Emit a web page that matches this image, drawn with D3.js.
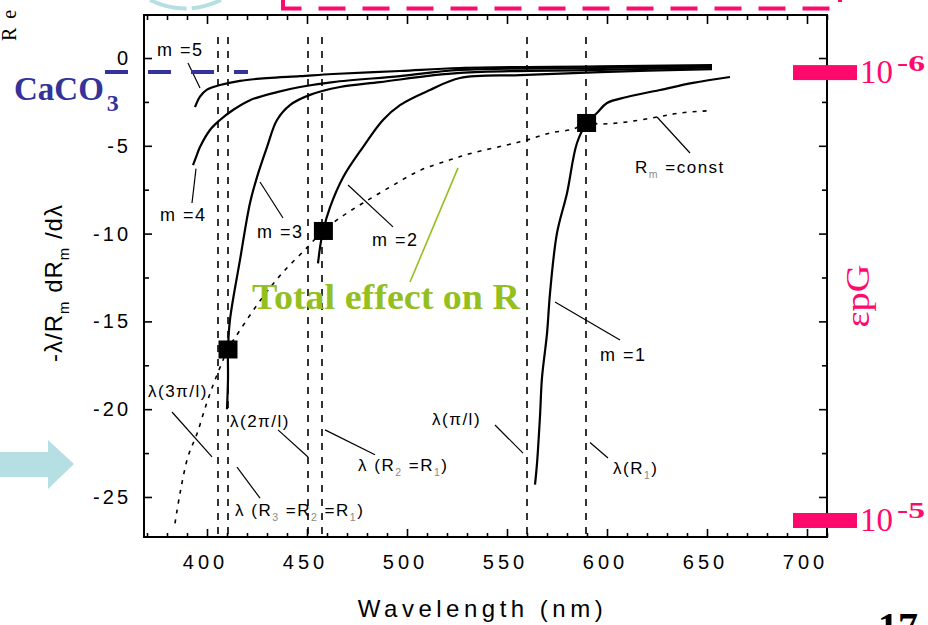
<!DOCTYPE html>
<html><head><meta charset="utf-8">
<script src="https://cdn.jsdelivr.net/npm/d3@7"></script>
<style>body{margin:0;background:#fff;}svg{display:block}</style>
</head><body>
<svg id="c" width="928" height="625"></svg>
<script>
// ---------------- data ----------------
const wavelengthTicks = [400, 450, 500, 550, 600, 650, 700];
const valueTicks = [0, -5, -10, -15, -20, -25];

const curveM1 = [[564,-24.3],[565,-23.1],[566.5,-20.4],[567.5,-18.2],[570,-15.7],[571.5,-13.4],[575,-9.97],[580,-7.7],[585,-4.84],[590,-3.7],[595,-3.13],[600,-2.56],[610,-2.22],[626.5,-1.82],[643,-1.42],[661.5,-1.08]];
const curveM2 = [[455.5,-11.7],[456.5,-10.8],[458,-9.85],[461.5,-8.5],[468,-6.8],[478,-5.07],[488,-3.53],[496.5,-2.68],[511.5,-1.82],[526.5,-1.14],[556.5,-0.97],[596.5,-0.8],[652.5,-0.63]];
const curveM3 = [[410,-20.0],[410.5,-18.3],[410.5,-16.6],[411.5,-14.9],[416.5,-11.5],[421.5,-8.26],[425,-6.78],[430,-5.07],[435,-3.53],[441.5,-2.68],[451.5,-2.1],[466.5,-1.65],[486.5,-1.37],[526.5,-0.85],[596.5,-0.68],[652.5,-0.54]];
const curveM4 = [[393,-6.1],[395,-5.5],[396.5,-5.07],[401.5,-4.1],[406.5,-3.53],[413,-2.96],[421.5,-2.4],[435,-1.94],[446.5,-1.65],[463,-1.37],[496.5,-1.03],[526.5,-0.68],[596.5,-0.57],[652.5,-0.46]];
const curveM5 = [[394,-2.8],[396.5,-2.2],[400,-1.8],[406.5,-1.54],[416.5,-1.3],[430,-1.14],[446.5,-1.03],[463,-0.91],[496.5,-0.74],[526.5,-0.57],[596.5,-0.48],[652.5,-0.4]];
const curveRconst = [[384,-26.5],[386.5,-24.8],[390.5,-22.7],[395,-21.4],[400,-19.6],[405,-18.05],[410.5,-16.6],[416.5,-15.5],[428,-13.6],[438,-12.2],[450,-10.8],[458,-9.85],[466.5,-9.1],[478,-8.26],[491.5,-7.35],[506.5,-6.4],[521.5,-5.8],[533,-5.4],[550,-4.95],[560,-4.67],[571.5,-4.27],[583,-4.05],[590,-3.7],[596.5,-3.76],[610,-3.64],[625,-3.36],[636.5,-3.13],[651.5,-3.0]];
const squarePoints = [[410.5,-16.6],[458.2,-9.85],[589.8,-3.7]];
const resonanceLines = [405.5, 410.5, 450.5, 457.5, 560, 589.5];

const labelTexts = ["m =5","m =4","m =3","m =2","m =1","R_m =const","λ(3π/l)","λ(2π/l)","λ (R_2 =R_1)","λ (R_3 =R_2 =R_1)","λ(π/l)","λ(R_1)"];
const labelAnchors = [[375,0.11],[376.5,-9.28],[425,-10.25],[482.5,-10.7],[596.5,-17.25],[614,-6.55],[370.5,-19.3],[411.5,-21.0],[475.5,-23.5],[414,-26.1],[512.5,-20.9],[603,-23.7]];
const labelSizes = [18,18,18,18,18,17,17,17,17,17,17,17];
const pointerLines = [
  [[390.5,-0.28],[396.5,-1.71]],
  [[392.5,-8.26],[394.5,-6.3]],
  [[426.5,-7.06],[438,-9.11]],
  [[470.5,-7.23],[493,-9.62]],
  [[574,-13.9],[606.5,-16.06]],
  [[625,-3.36],[641.5,-5.41]],
  [[382.5,-20.16],[402.5,-22.72]],
  [[435.5,-21.18],[450.5,-22.72]],
  [[459,-21.18],[484,-22.6]],
  [[415,-23.3],[426.5,-25.06]],
  [[544,-20.9],[558,-22.5]],
  [[591.5,-21.9],[600.5,-22.78]]
];
const totalEffectText = "Total effect on R";
const totalEffectAnchor = [422.5, -14.3];
const totalEffectPointer = [[501.5,-12.76],[525.5,-6.26]];
const caco3Level = -0.8;
const caco3Span = [349, 420.5];
const epsMarks = [{exp:"-6", v:-0.83}, {exp:"-5", v:-26.34}];

// ---------------- layout ----------------
const svg = d3.select("#c");
const L=144, R=827, T=15, B=537;
const x = d3.scaleLinear().domain([368.5, 710]).range([L, R]);
const y = d3.scaleLinear().domain([2.45, -27.28]).range([T, B]);
const SANS = "'Liberation Sans', Arial, sans-serif";
const SERIF = "'Liberation Serif', 'Times New Roman', serif";
const PINK = "#ff0a6c", BLUE = "#333399", GREEN = "#93c01f", CYAN = "#b5dfe3";

// decorations outside plot
svg.append("path").attr("d","M150,0 Q185,17 221,0").attr("fill","none")
  .attr("stroke",CYAN).attr("stroke-width",4).attr("stroke-dasharray","38,5");
svg.append("path").attr("d","M283,0 V8.5 H840 V0").attr("fill","none")
  .attr("stroke",PINK).attr("stroke-width",4).attr("stroke-dasharray","27,17");
svg.append("text").attr("transform","translate(16,41) rotate(-90)")
  .attr("font-family",SERIF).attr("font-size",20).attr("letter-spacing",9).text("Re");
svg.append("polygon").attr("points","0,452 48,452 48,440 74,464 48,489 48,477 0,477").attr("fill",CYAN);

// clip
svg.append("clipPath").attr("id","clip").append("rect")
  .attr("x",L).attr("y",T).attr("width",R-L).attr("height",B-T);
const plot = svg.append("g").attr("clip-path","url(#clip)");

// vertical dashed resonance lines
plot.selectAll("line.res").data(resonanceLines).join("line")
  .attr("x1",d=>x(d)).attr("x2",d=>x(d)).attr("y1",T+22).attr("y2",B)
  .attr("stroke","#000").attr("stroke-width",1.6).attr("stroke-dasharray","7,7");

const line = d3.line().x(d=>x(d[0])).y(d=>y(d[1])).curve(d3.curveCatmullRom.alpha(0.5));

plot.append("path").datum(curveRconst).attr("d",line).attr("fill","none")
  .attr("stroke","#000").attr("stroke-width",1.6).attr("stroke-dasharray","4,6");

[curveM1, curveM2, curveM3, curveM4, curveM5].forEach(c => {
  plot.append("path").datum(c).attr("d",line).attr("fill","none")
    .attr("stroke","#000").attr("stroke-width",2.2);
});

plot.selectAll("rect.sq").data(squarePoints).join("rect")
  .attr("x",d=>x(d[0])-9.5).attr("y",d=>y(d[1])-9).attr("width",19).attr("height",18).attr("fill","#000");

// pointer lines
svg.selectAll("line.ptr").data(pointerLines).join("line")
  .attr("x1",d=>x(d[0][0])).attr("y1",d=>y(d[0][1])).attr("x2",d=>x(d[1][0])).attr("y2",d=>y(d[1][1]))
  .attr("stroke","#000").attr("stroke-width",1.2);

// rich text helper (underscore = subscript char)
function rich(g, str, size, subColor) {
  const parts = [];
  let buf = "";
  for (let i = 0; i < str.length; i++) {
    if (str[i] === "_") {
      if (buf) { parts.push({t: buf, sub: false}); buf = ""; }
      parts.push({t: str[i+1], sub: true});
      i++;
    } else buf += str[i];
  }
  if (buf) parts.push({t: buf, sub: false});
  let shift = 0;
  parts.forEach(p => {
    const target = p.sub ? size*0.3 : 0;
    const ts = g.append("tspan").text(p.t);
    if (target !== shift) { ts.attr("dy", target - shift); shift = target; }
    if (p.sub) ts.attr("font-size", size*0.62).attr("fill", subColor);
  });
}

labelTexts.forEach((t, i) => {
  const g = svg.append("text").attr("x", x(labelAnchors[i][0])).attr("y", y(labelAnchors[i][1]))
    .attr("font-family", SANS).attr("font-size", labelSizes[i]).attr("letter-spacing", 1.5).attr("fill","#000");
  rich(g, t, labelSizes[i], "#8a8a8a");
});

// green annotation
svg.append("line").attr("x1",x(totalEffectPointer[0][0])).attr("y1",y(totalEffectPointer[0][1]))
  .attr("x2",x(totalEffectPointer[1][0])).attr("y2",y(totalEffectPointer[1][1]))
  .attr("stroke",GREEN).attr("stroke-width",1.6);
svg.append("text").attr("x",x(totalEffectAnchor[0])).attr("y",y(totalEffectAnchor[1]))
  .attr("font-family",SERIF).attr("font-weight","bold").attr("font-size",36)
  .attr("textLength",268).attr("lengthAdjust","spacingAndGlyphs").attr("fill",GREEN).text(totalEffectText);

// axes
const minorX = d3.range(370, 711, 10).filter(v => v % 50 !== 0);
const minorY = d3.range(-2.5, -27.5, -2.5).filter(v => v % 5 !== 0);
function styleAxis(g){ g.select(".domain").remove(); g.selectAll(".tick line").attr("stroke","#000").attr("stroke-width",1.6); }

svg.append("g").attr("transform",`translate(0,${B})`)
  .call(d3.axisBottom(x).tickValues(wavelengthTicks).tickSizeInner(-8).tickSizeOuter(0).tickPadding(18).tickFormat(d3.format("d")))
  .call(styleAxis)
  .call(g=>g.selectAll("text").attr("font-family",SANS).attr("font-size",20).attr("letter-spacing",4).attr("dx",-2).attr("fill","#000"));
svg.append("g").attr("transform",`translate(0,${B})`)
  .call(d3.axisBottom(x).tickValues(minorX).tickSizeInner(-4).tickSizeOuter(0).tickFormat(""))
  .call(styleAxis);
svg.append("g").attr("transform",`translate(0,${T})`)
  .call(d3.axisTop(x).tickValues(wavelengthTicks).tickSizeInner(-9).tickSizeOuter(0).tickFormat(""))
  .call(styleAxis);
svg.append("g").attr("transform",`translate(0,${T})`)
  .call(d3.axisTop(x).tickValues(minorX).tickSizeInner(-5).tickSizeOuter(0).tickFormat(""))
  .call(styleAxis);
svg.append("g").attr("transform",`translate(${L},0)`)
  .call(d3.axisLeft(y).tickValues(valueTicks).tickSizeInner(-8).tickSizeOuter(0).tickPadding(13).tickFormat(d=>String(d)))
  .call(styleAxis)
  .call(g=>g.selectAll("text").attr("font-family",SANS).attr("font-size",20).attr("letter-spacing",3).attr("fill","#000"));
svg.append("g").attr("transform",`translate(${L},0)`)
  .call(d3.axisLeft(y).tickValues(minorY).tickSizeInner(-5).tickSizeOuter(0).tickFormat(""))
  .call(styleAxis);
svg.append("g").attr("transform",`translate(${R},0)`)
  .call(d3.axisRight(y).tickValues(valueTicks).tickSizeInner(-8).tickSizeOuter(0).tickFormat(""))
  .call(styleAxis);
svg.append("g").attr("transform",`translate(${R},0)`)
  .call(d3.axisRight(y).tickValues(minorY).tickSizeInner(-5).tickSizeOuter(0).tickFormat(""))
  .call(styleAxis);

svg.append("rect").attr("x",L).attr("y",T).attr("width",R-L).attr("height",B-T)
  .attr("fill","none").attr("stroke","#000").attr("stroke-width",2);

// axis titles
svg.append("text").attr("x",(L+R)/2-3).attr("y",617).attr("text-anchor","middle")
  .attr("font-family",SANS).attr("font-size",24).attr("letter-spacing",4.5).attr("fill","#000").text("Wavelength (nm)");
const yt = svg.append("text").attr("transform","translate(62,283) rotate(-90)").attr("text-anchor","middle")
  .attr("font-family",SANS).attr("font-size",24).attr("letter-spacing",1).attr("fill","#000");
rich(yt, "-λ/R_m dR_m /dλ", 24, "#000");

// CaCO3 marker
svg.append("line").attr("x1",x(caco3Span[0])).attr("x2",x(caco3Span[1])).attr("y1",y(caco3Level)).attr("y2",y(caco3Level))
  .attr("stroke",BLUE).attr("stroke-width",4).attr("stroke-dasharray","23,20");
const ct = svg.append("text").attr("x",14).attr("y",100).attr("font-family",SERIF).attr("font-weight","bold")
  .attr("font-size",33).attr("fill",BLUE);
ct.append("tspan").text("CaCO");
ct.append("tspan").attr("font-size",24).attr("dx",3).attr("dy",11).text("3");

// right side εpG scale marks
epsMarks.forEach(m => {
  const cy = y(m.v);
  svg.append("rect").attr("x",793).attr("y",cy-7.5).attr("width",64).attr("height",15).attr("fill",PINK);
  svg.append("text").attr("x",860).attr("y",cy+10.5).attr("font-family",SERIF).attr("font-size",34)
    .attr("textLength",33).attr("lengthAdjust","spacingAndGlyphs").attr("fill",PINK).text("10");
  svg.append("text").attr("x",897).attr("y",cy-2).attr("font-family",SERIF).attr("font-size",24).attr("font-weight","bold")
    .attr("textLength",28).attr("lengthAdjust","spacingAndGlyphs").attr("fill",PINK).text(m.exp);
});
svg.append("text").attr("transform","translate(869,296) rotate(-90)").attr("text-anchor","middle")
  .attr("font-family",SERIF).attr("font-size",34).attr("textLength",63).attr("lengthAdjust","spacingAndGlyphs")
  .attr("fill",PINK).text("εpG");

// page number (cut by the bottom edge, as in the reference)
svg.append("text").attr("x",878).attr("y",640).attr("font-family",SERIF).attr("font-weight","bold")
  .attr("font-size",40).attr("fill","#000").text("17");
</script>
</body></html>
